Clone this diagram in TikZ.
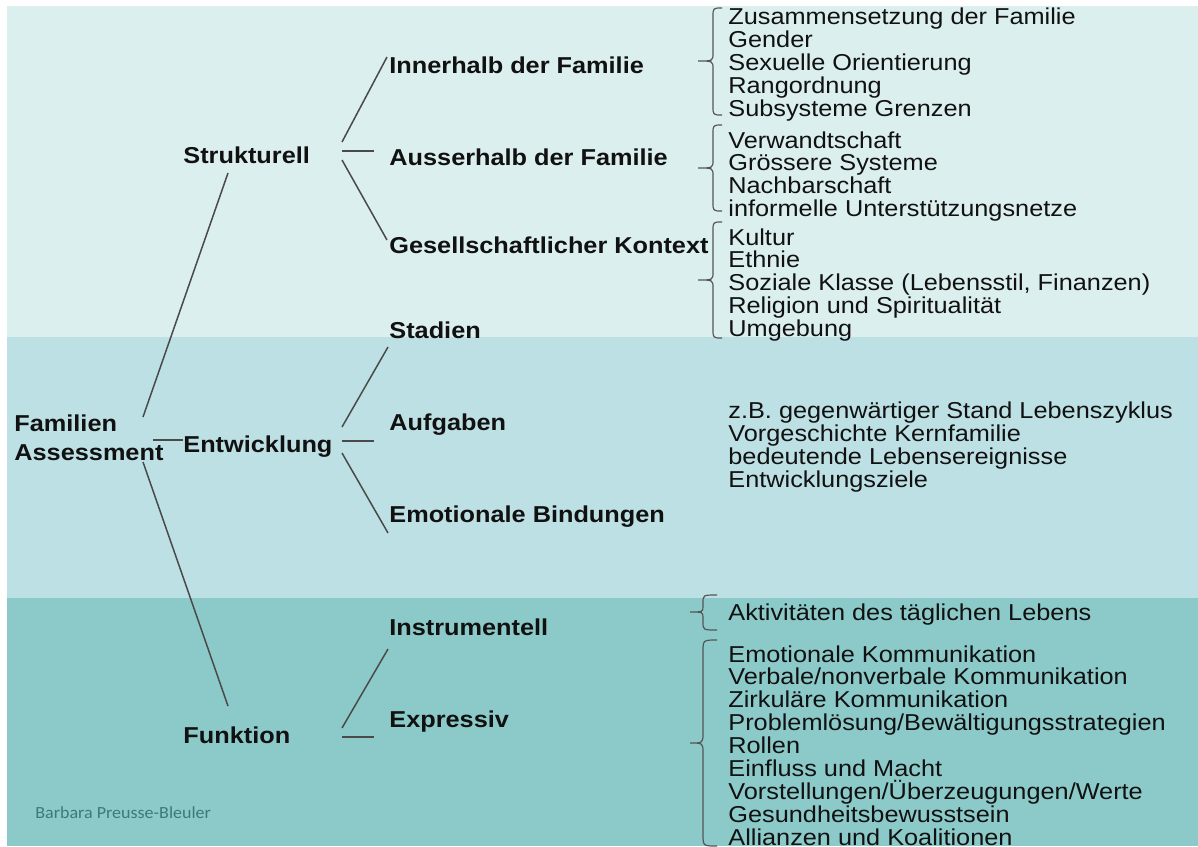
\documentclass[tikz,border=0pt]{standalone}
\usepackage{fontspec}
\setmainfont[FakeStretch=1.1]{Liberation Sans}
\newfontfamily\authorfont[FakeStretch=1.06]{Carlito}
\usetikzlibrary{calc}
\definecolor{bandA}{HTML}{DBEFEE}
\definecolor{bandB}{HTML}{BDE0E4}
\definecolor{bandC}{HTML}{8CCACA}
\definecolor{txtcol}{HTML}{111111}
\definecolor{conncol}{HTML}{4A4A4A}
\definecolor{bracecol}{HTML}{555555}
\definecolor{authcol}{HTML}{3E7878}
\newcommand{\mystack}[2]{\vtop{\baselineskip=#1\lineskiplimit=-30pt\lineskip=0pt #2}}
\newcommand{\itm}[1]{\hbox{#1}}
\begin{document}
\begin{tikzpicture}[x=0.5pt,y=-0.5pt,
  lab/.style={anchor=base west, inner sep=0pt, font=\fontsize{11.5}{14.5}\selectfont\bfseries, text=txtcol},
  itms/.style={anchor=base west, inner sep=0pt, font=\fontsize{11.5}{11.4}\selectfont, text=txtcol},
  link/.style={draw=conncol, line width=0.75pt},
  bracepath/.style={draw=bracecol, line width=0.6pt},
  auth/.style={anchor=base west, inner sep=0pt, font=\authorfont\fontsize{8.5}{10}\selectfont, text=authcol}]
\useasboundingbox (0,0) rectangle (1198,846);
\clip (0,0) rectangle (1198,846);
% background bands
\fill[white] (0,0) rectangle (1198,846);
\fill[bandA] (7,6) rectangle (1198,337);
\fill[bandB] (7,337) rectangle (1198,598);
\fill[bandC] (7,598) rectangle (1198,846);

% nodes
\node[lab] (root) at (14,431) {\mystack{14.5pt}{\itm{Familien}\itm{Assessment}}};
\node[lab] (strukt) at (183,163) {Strukturell};
\node[lab] (entw) at (183,452) {Entwicklung};
\node[lab] (funk) at (183,743) {Funktion};

\node[lab] (inner) at (389,73) {Innerhalb der Familie};
\node[lab] (auss) at (389,165) {Ausserhalb der Familie};
\node[lab] (ges) at (389,253) {Gesellschaftlicher Kontext};
\node[lab] (stad) at (389,338) {Stadien};
\node[lab] (aufg) at (389,430) {Aufgaben};
\node[lab] (emo) at (389,522) {Emotionale Bindungen};
\node[lab] (instr) at (389,635) {Instrumentell};
\node[lab] (expr) at (389,727) {Expressiv};

\node[itms] (g1) at (728,25) {\mystack{11.4pt}{\itm{Zusammensetzung der Familie}\itm{Gender}\itm{Sexuelle Orientierung}\itm{Rangordnung}\itm{Subsysteme Grenzen}}};
\node[itms] (g2) at (728,148) {\mystack{11.4pt}{\itm{Verwandtschaft}\itm{Grössere Systeme}\itm{Nachbarschaft}\itm{informelle Unterstützungsnetze}}};
\node[itms] (g3) at (728,245) {\mystack{11.4pt}{\itm{Kultur}\itm{Ethnie}\itm{Soziale Klasse (Lebensstil, Finanzen)}\itm{Religion und Spiritualität}\itm{Umgebung}}};
\node[itms] (gm) at (728,418) {\mystack{11.5pt}{\itm{z.B. gegenwärtiger Stand Lebenszyklus}\itm{Vorgeschichte Kernfamilie}\itm{bedeutende Lebensereignisse}\itm{Entwicklungsziele}}};
\node[itms] (g4) at (728,620) {Aktivitäten des täglichen Lebens};
\node[itms] (g5) at (728,662) {\mystack{11.45pt}{\itm{Emotionale Kommunikation}\itm{Verbale/nonverbale Kommunikation}\itm{Zirkuläre Kommunikation}\itm{Problemlösung/Bewältigungsstrategien}\itm{Rollen}\itm{Einfluss und Macht}\itm{Vorstellungen/Überzeugungen/Werte}\itm{Gesundheitsbewusstsein}\itm{Allianzen und Koalitionen}}};

\node[auth] (author) at (35,818) {Barbara Preusse-Bleuler};

% fork coordinates
\coordinate (rf) at (143,440);
\coordinate (sf) at (342,151);
\coordinate (ef) at (342,441);
\coordinate (ff) at (342,737);

% connectors from root
\draw[link] ($(rf)+(0,-23)$) -- ($(strukt.base west)+(45,10)$);
\draw[link] ($(rf)+(10,0)$) -- (rf -| entw.west);
\draw[link] ($(rf)+(0,22)$) -- ($(funk.base west)+(45,-37)$);
% Strukturell
\draw[link] ($(sf)+(0,-9)$) -- ($(inner.base west)+(-2,-16)$);
\draw[link] (sf) -- ($(sf -| auss.west)+(-15,0)$);
\draw[link] ($(sf)+(0,9)$) -- ($(ges.base west)+(-2,-13)$);
% Entwicklung
\draw[link] ($(ef)+(0,-14)$) -- ($(stad.base west)+(-1,9)$);
\draw[link] (ef) -- ($(ef -| aufg.west)+(-15,0)$);
\draw[link] ($(ef)+(0,12)$) -- ($(emo.base west)+(-1,11)$);
% Funktion
\draw[link] ($(ff)+(0,-9)$) -- ($(instr.base west)+(-1,14)$);
\draw[link] (ff) -- ($(ff -| expr.west)+(-15,0)$);

% braces
\draw[bracepath] (722,8) .. controls (713,8) .. (713,17) -- (713,53) .. controls (713,61) .. (698,61) .. controls (713,61) .. (713,69) -- (713,106) .. controls (713,115) .. (722,115);
\draw[bracepath] (722,125) .. controls (713,125) .. (713,134) -- (713,160) .. controls (713,168) .. (698,168) .. controls (713,168) .. (713,176) -- (713,202) .. controls (713,211) .. (722,211);
\draw[bracepath] (722,222) .. controls (713,222) .. (713,231) -- (713,272) .. controls (713,280) .. (698,280) .. controls (713,280) .. (713,288) -- (713,329) .. controls (713,338) .. (722,338);
\draw[bracepath] (717,595) .. controls (703,595) .. (703,603) -- (703,606) .. controls (703,612) .. (690,612) .. controls (703,612) .. (703,618) -- (703,622) .. controls (703,630) .. (717,630);
\draw[bracepath] (717,640) .. controls (703,640) .. (703,652) -- (703,733) .. controls (703,743) .. (690,743) .. controls (703,743) .. (703,753) -- (703,834) .. controls (703,846) .. (717,846);
\end{tikzpicture}
\end{document}
